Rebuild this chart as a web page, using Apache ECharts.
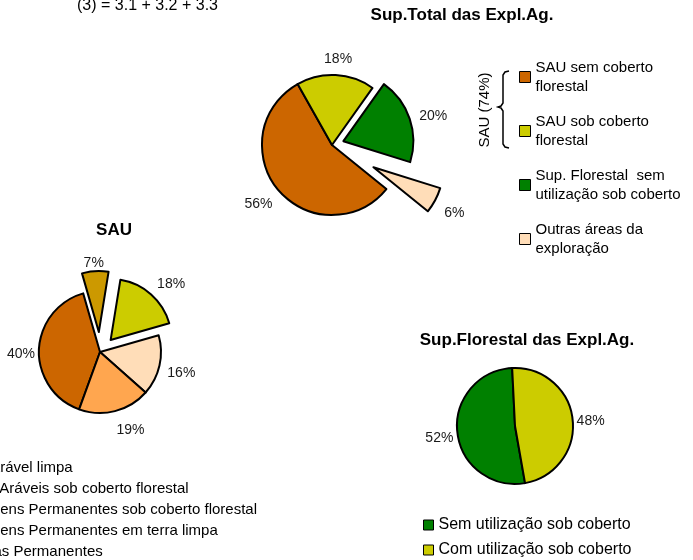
<!DOCTYPE html>
<html><head><meta charset="utf-8">
<script src="https://cdn.jsdelivr.net/npm/echarts@6/dist/echarts.min.js"></script>
<style>html,body{margin:0;padding:0;background:#fff}#c{width:693px;height:560px}</style>
</head><body><div id="c"></div>
<script>
// ---- data ----
const totalNames = ['SAU sem coberto\nflorestal', 'SAU sob coberto\nflorestal', 'Sup. Florestal  sem\nutilização sob coberto', 'Outras áreas da\nexploração'];
const totalValues = [56, 18, 20, 6];
const totalColors = ['#CC6600', '#CCCC00', '#008000', '#FFDDB8'];

const sauNames = ['Terra arável limpa', 'Terras Aráveis sob coberto florestal', 'Pastagens Permanentes sob coberto florestal', 'Pastagens Permanentes em terra limpa', 'Culturas Permanentes'];
const sauValues = [40, 7, 18, 16, 19];
const sauColors = ['#CC6600', '#CC9900', '#CCCC00', '#FFDDB8', '#FFA64F'];

const florNames = ['Sem utilização sob coberto', 'Com utilização sob coberto'];
const florValues = [52, 48];
const florColors = ['#008000', '#CCCC00'];

const titleTotal = 'Sup.Total das Expl.Ag.';
const titleSau = 'SAU';
const titleFlor = 'Sup.Florestal das Expl.Ag.';
const noteText = '(3) = 3.1 + 3.2 + 3.3';
const bracketText = 'SAU (74%)';

// ---- styles (label nudges, not data) ----
const totalLabelNudge = [[2, 9], [-14, -8], [0, 0], [0, 9]];
const sauLabelNudge = [[4, 4], [11, -2], [0, -6], [0, 6], [-2, 13]];
const florLabelNudge = [[2, 5], [-2, 2]];

const FONT = "'Liberation Sans', Arial, Helvetica, sans-serif";
const HIDDEN = 'rgba(0,0,0,0)';

function buildData(names, values, colors, visible, selected, nudge) {
  return names.map((n, i) => {
    const show = visible.indexOf(i) >= 0;
    const style = show ? { color: colors[i], borderColor: '#000', borderWidth: 2 }
                       : { color: HIDDEN, borderColor: HIDDEN, borderWidth: 0 };
    return {
      name: n,
      value: values[i],
      selected: selected.indexOf(i) >= 0,
      itemStyle: style,
      label: { show: show, offset: nudge[i] },
      select: { itemStyle: style, label: { show: show, offset: nudge[i] } }
    };
  });
}

function pieSeries(center, radius, startAngle, offset, data, lineLen) {
  return {
    type: 'pie',
    center: center,
    radius: radius,
    startAngle: startAngle,
    clockwise: true,
    selectedMode: 'multiple',
    selectedOffset: offset,
    avoidLabelOverlap: false,
    emphasis: { disabled: true },
    label: {
      position: 'outside',
      formatter: '{d}%',
      fontSize: 14,
      fontFamily: FONT,
      color: '#1a1a1a',
      distanceToLabelLine: 0
    },
    labelLine: { show: false, length: lineLen, length2: 2 },
    data: data
  };
}

function legendData(names, colors) {
  return names.map((n, i) => ({ name: n, itemStyle: { color: colors[i], borderColor: '#000', borderWidth: 1 } }));
}

const chart = echarts.init(document.getElementById('c'), null, { renderer: 'canvas' });

const option = {
  animation: false,
  backgroundColor: '#fff',
  title: [
    { text: noteText, left: 77, top: -2, padding: 0,
      textStyle: { fontSize: 16, fontWeight: 'normal', color: '#000', fontFamily: FONT } },
    { text: titleTotal, left: 462, top: 7, padding: 0, textAlign: 'center',
      textStyle: { fontSize: 17, fontWeight: 'bold', color: '#000', fontFamily: FONT } },
    { text: titleSau, left: 114, top: 222, padding: 0, textAlign: 'center',
      textStyle: { fontSize: 17, fontWeight: 'bold', color: '#000', fontFamily: FONT } },
    { text: titleFlor, left: 527, top: 332, padding: 0, textAlign: 'center',
      textStyle: { fontSize: 17, fontWeight: 'bold', color: '#000', fontFamily: FONT } }
  ],
  legend: [
    { orient: 'vertical', left: 519, top: 50, padding: 0, itemGap: 0,
      itemWidth: 11, itemHeight: 11, icon: 'rect', selectedMode: false,
      data: legendData(totalNames, totalColors),
      textStyle: { fontSize: 15, lineHeight: 19, padding: [16, 0, 0, 0], color: '#000', fontFamily: FONT } },
    { orient: 'vertical', left: -62, top: 460, padding: 0, itemGap: 6,
      itemWidth: 10, itemHeight: 10, icon: 'rect', selectedMode: false,
      data: legendData(sauNames, sauColors),
      textStyle: { fontSize: 15, color: '#000', fontFamily: FONT } },
    { orient: 'vertical', left: 423, top: 517, padding: 0, itemGap: 9,
      itemWidth: 10, itemHeight: 10, icon: 'rect', selectedMode: false,
      data: legendData(florNames, florColors),
      textStyle: { fontSize: 16, color: '#000', fontFamily: FONT } }
  ],
  graphic: [
    { type: 'text', x: 485, y: 110, rotation: Math.PI / 2,
      style: { text: bracketText, fontSize: 15, fontFamily: FONT, fill: '#000', align: 'center', verticalAlign: 'middle' } },
    { type: 'polyline',
      shape: { points: [[509,71],[505,72],[503,75],[503,103],[501,106],[498,107],[501,108],[503,111],[503,144],[505,147],[509,148]] },
      style: { stroke: '#000', lineWidth: 1.5, fill: null } }
  ],
  series: [
    pieSeries([332, 145], 70, -39, 12, buildData(totalNames, totalValues, totalColors, [0, 1, 2], [2], totalLabelNudge), 8),
    pieSeries([332, 145], 70, -39, 47, buildData(totalNames, totalValues, totalColors, [3], [3], totalLabelNudge), 8),
    pieSeries([100, 352], 61, -110, 16, buildData(sauNames, sauValues, sauColors, [0, 2, 3, 4], [2], sauLabelNudge), 6),
    pieSeries([100, 352], 61, -110, 20, buildData(sauNames, sauValues, sauColors, [1], [1], sauLabelNudge), 6),
    pieSeries([515, 426], 58, -80, 0, buildData(florNames, florValues, florColors, [0, 1], [], florLabelNudge), 4)
  ]
};
chart.setOption(option);
</script>
</body></html>
